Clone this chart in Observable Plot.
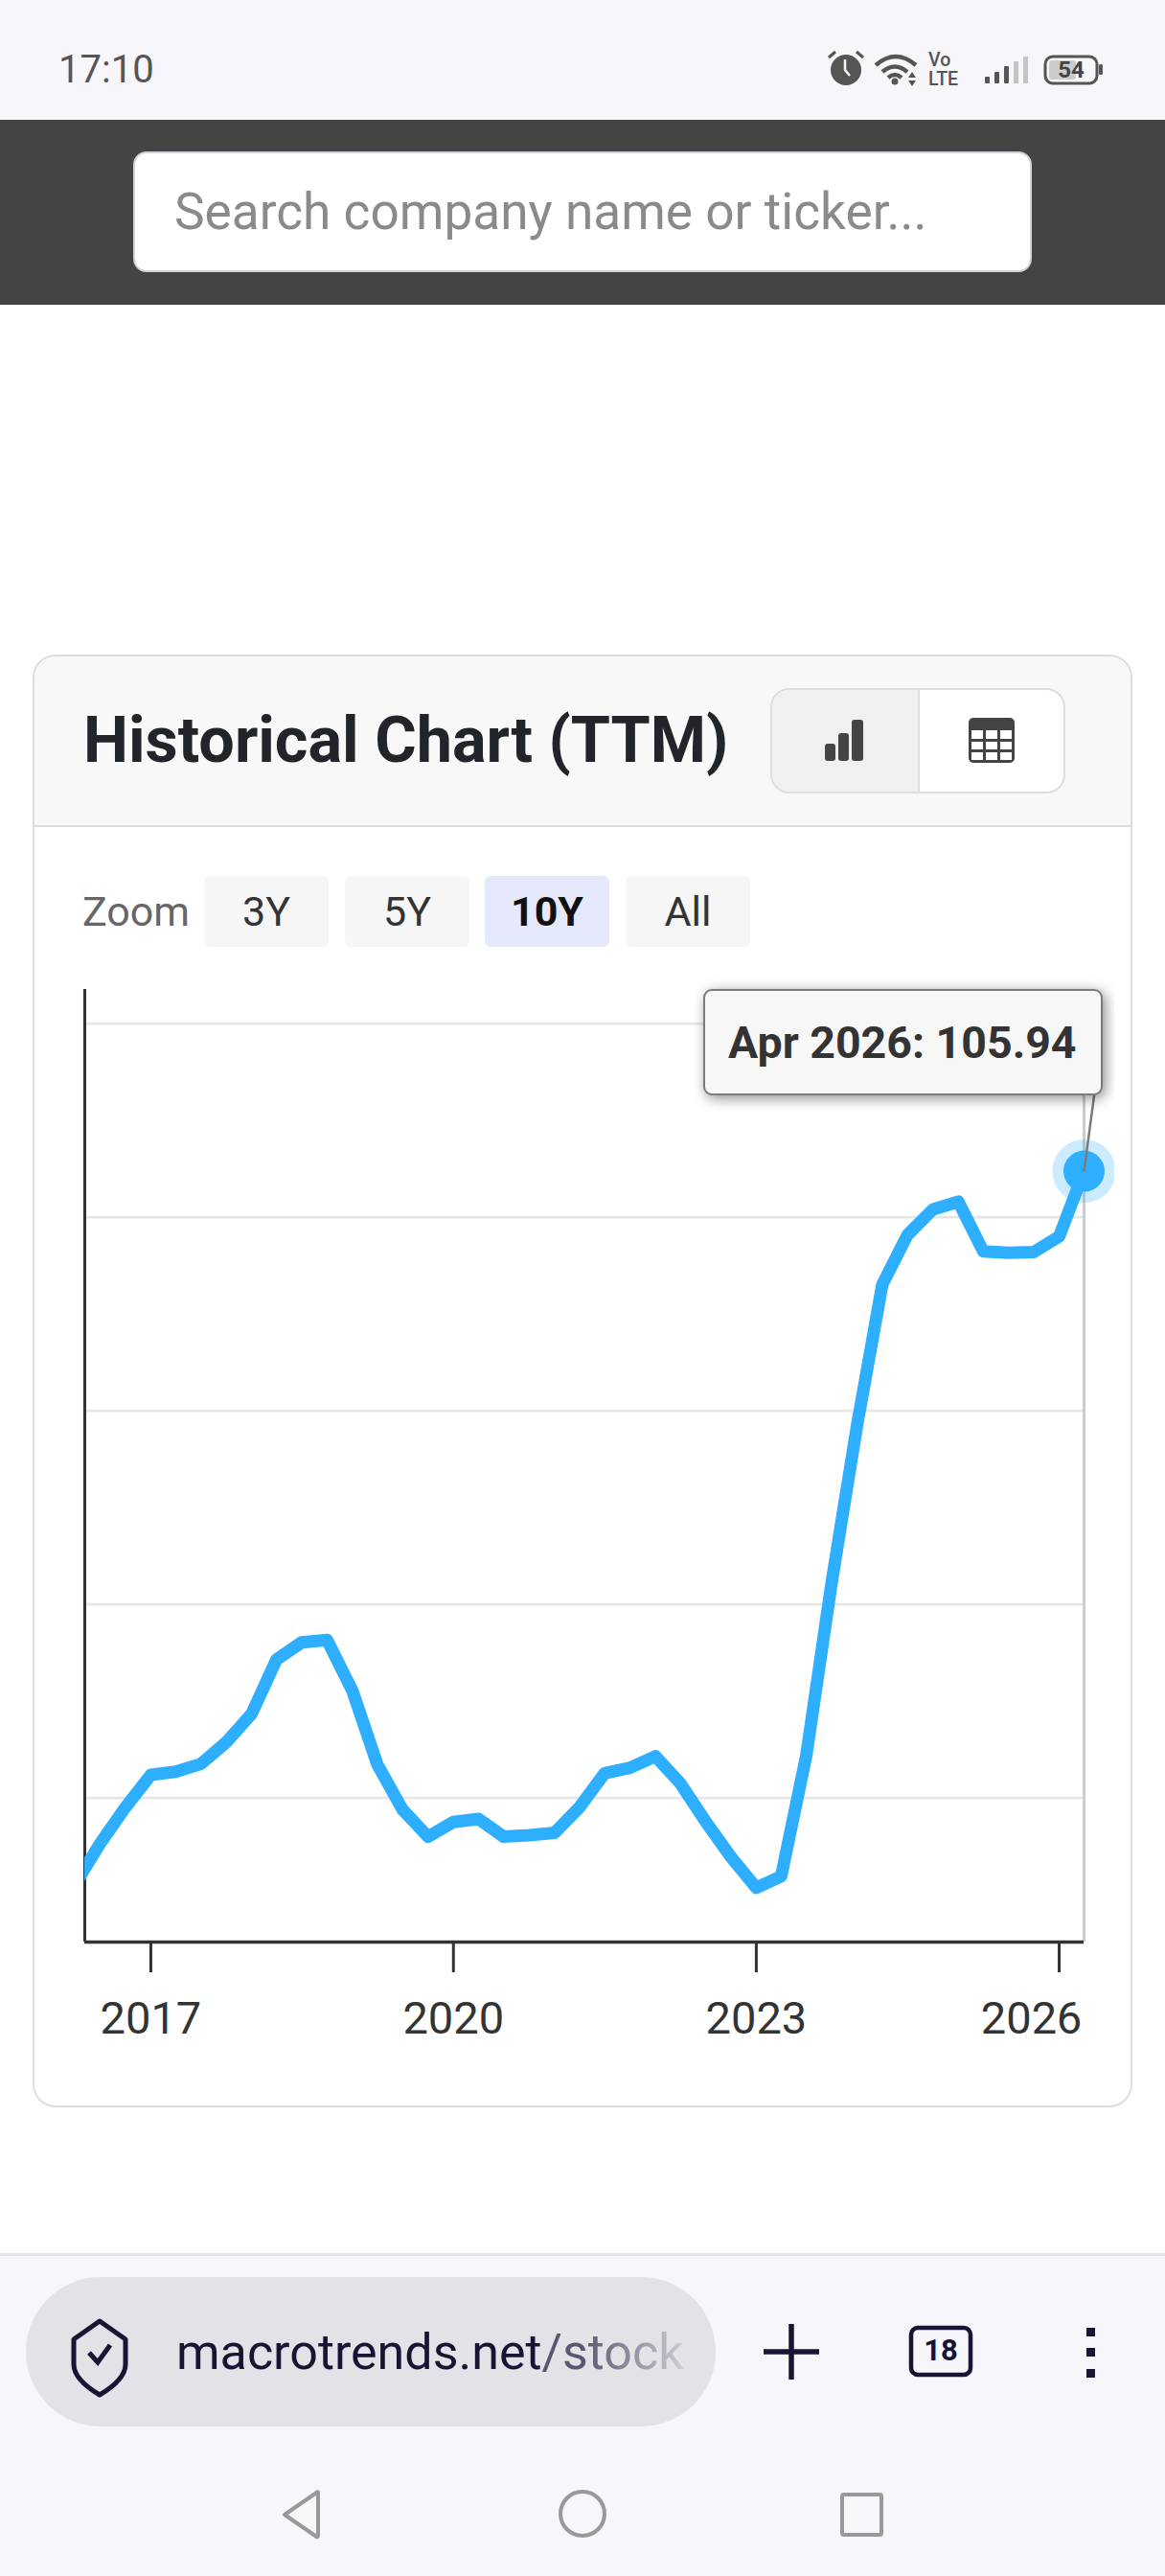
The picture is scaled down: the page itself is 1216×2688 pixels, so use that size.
<!DOCTYPE html>
<html><head><meta charset="utf-8">
<script src="https://cdn.jsdelivr.net/npm/d3@7"></script>
<script src="https://cdn.jsdelivr.net/npm/@observablehq/plot@0.6"></script>
<style>
html,body{margin:0;padding:0;background:#fff}
body{position:relative;width:1216px;height:2688px;overflow:hidden;font-family:Roboto,sans-serif}
.a{position:absolute;box-sizing:border-box}
.t{position:absolute;white-space:nowrap;line-height:1}
</style></head><body>
<div class="a" style="left:0;top:0;width:1216px;height:125px;background:#f6f6fb"></div>
<div class="t" style="left:61px;top:53px;font-size:40px;color:#555">17:10</div>
<svg class="a" style="left:860px;top:48px" width="300" height="48" viewBox="0 0 300 48">
  <circle cx="23" cy="25" r="16" fill="#555"/><path d="M22 14v11l5 6" stroke="#f6f6fb" stroke-width="2.5" fill="none"/>
  <path d="M5 12l7-6M41 12l-7-6" stroke="#555" stroke-width="3"/>
  <path d="M54 20Q75 2 96 20M61 27Q74 16 87 27M67 33Q74 27 81 33" stroke="#555" stroke-width="4.5" fill="none"/>
  <circle cx="74" cy="37" r="3.5" fill="#555"/><path d="M88 33l4-6 4 6zM88 36l4 6 4-6z" fill="#555"/>
  <text x="109" y="21" font-size="19.5" font-weight="500" fill="#555">Vo</text><text x="109" y="41" font-size="19.5" font-weight="500" fill="#555">LTE</text>
  <rect x="168" y="32" width="5" height="7" rx="1" fill="#555"/><rect x="178" y="27" width="5" height="12" rx="1" fill="#555"/><rect x="188" y="21" width="5" height="18" rx="1" fill="#555"/><rect x="198" y="16" width="5" height="23" fill="#c4c4c4"/><rect x="208" y="11" width="5" height="28" fill="#c4c4c4"/>
  <rect x="231" y="11" width="54" height="28" rx="8" fill="none" stroke="#555" stroke-width="3"/><rect x="235" y="15" width="28" height="20" rx="3" fill="#ccc"/>
  <rect x="287" y="19" width="4" height="11" rx="1.5" fill="#555"/>
  <text x="258" y="33" text-anchor="middle" font-size="24" font-weight="700" fill="#444">54</text>
</svg>
<div class="a" style="left:0;top:125px;width:1216px;height:193px;background:#444"></div>
<div class="a" style="left:139px;top:158px;width:938px;height:126px;background:#fff;border:2px solid #ced4da;border-radius:14px"></div>
<div class="t" style="left:182px;top:195px;font-size:53.2px;color:#8a8a8a">Search company name or ticker...</div>
<div class="a" style="left:34px;top:683px;width:1148px;height:1516px;background:#fff;border:2.5px solid #ddd;border-radius:24px"></div>
<div class="a" style="left:36px;top:685px;width:1144px;height:178px;background:#f8f8f8;border-bottom:2.5px solid #ddd;border-radius:22px 22px 0 0"></div>
<div class="t" style="left:87px;top:739px;font-size:66.5px;font-weight:700;color:#212529">Historical Chart (TTM)</div>
<div class="a" style="left:804px;top:718px;width:308px;height:110px;background:#fff;border:2.5px solid #ddd;border-radius:20px;overflow:hidden">
  <div class="a" style="left:0;top:0;width:154px;height:110px;background:#f0f0f0;border-right:2.5px solid #ddd"></div>
</div>
<svg class="a" style="left:855px;top:745px" width="220" height="56" viewBox="0 0 220 56">
  <rect x="6" y="31" width="11" height="18" rx="3" fill="#444"/><rect x="20" y="20" width="11" height="29" rx="3" fill="#444"/><rect x="34" y="6" width="12" height="43" rx="3" fill="#444"/>
  <rect x="156" y="4" width="48" height="47" rx="5" fill="#444"/>
  <g fill="#fff"><rect x="159" y="17" width="12" height="9"/><rect x="174" y="17" width="12" height="9"/><rect x="189" y="17" width="12" height="9"/>
  <rect x="159" y="29" width="12" height="8"/><rect x="174" y="29" width="12" height="8"/><rect x="189" y="29" width="12" height="8"/>
  <rect x="159" y="40" width="12" height="8"/><rect x="174" y="40" width="12" height="8"/><rect x="189" y="40" width="12" height="8"/></g>
</svg>
<div class="t" style="left:86px;top:930px;font-size:43px;color:#666">Zoom</div>
<div class="a" style="left:213px;top:914px;width:130px;height:74px;background:#f6f6f6;border-radius:6px"></div>
<div class="a" style="left:360px;top:914px;width:130px;height:74px;background:#f6f6f6;border-radius:6px"></div>
<div class="a" style="left:506px;top:914px;width:130px;height:74px;background:#e6e9fb;border-radius:6px"></div>
<div class="a" style="left:653px;top:914px;width:130px;height:74px;background:#f6f6f6;border-radius:6px"></div>
<div class="t" style="left:213px;width:130px;text-align:center;top:930px;font-size:43px;color:#333">3Y</div>
<div class="t" style="left:360px;width:130px;text-align:center;top:930px;font-size:43px;color:#333">5Y</div>
<div class="t" style="left:506px;width:130px;text-align:center;top:930px;font-size:43px;font-weight:700;color:#111">10Y</div>
<div class="t" style="left:653px;width:130px;text-align:center;top:930px;font-size:43px;color:#333">All</div>
<div id="chart" class="a" style="left:0;top:1000px"></div>
<div class="a" style="left:734px;top:1032px;width:417px;height:111px;background:#f7f7f7;border:2.5px solid #7b7b7b;border-radius:9px;box-shadow:3px 3px 14px rgba(0,0,0,.45);clip-path:inset(-40px -12px -40px -40px)"></div>
<div class="t" style="left:760px;top:1065px;font-size:46.5px;font-weight:700;color:#333">Apr 2026: 105.94</div>
<div class="a" style="left:0;top:2351px;width:1216px;height:337px;background:#f6f6fb;border-top:3px solid #e4e4e8"></div>
<div class="a" style="left:27px;top:2376px;width:720px;height:156px;background:#e2e2e7;border-radius:78px"></div>
<div class="t" style="left:184px;top:2429px;font-size:52px;color:#1b1333;-webkit-mask-image:linear-gradient(90deg,#000 80%,rgba(0,0,0,.15) 100%)">macrotrends.net<span style="color:#5b5670">/stock</span></div>
<svg class="a" style="left:0;top:2400px" width="1216" height="288" viewBox="0 0 1216 288">
  <path d="M104 22l27 19v26q0 16-27 32q-27-16-27-32V41z" fill="none" stroke="#1b1333" stroke-width="5" stroke-linejoin="round"/>
  <path d="M93 55l9 10 13-18" fill="none" stroke="#1b1333" stroke-width="5"/>
  <path d="M826 25v58M797 54h58" stroke="#1b1333" stroke-width="5.5"/>
  <rect x="951" y="29" width="62" height="49" rx="7" fill="none" stroke="#1b1333" stroke-width="4.5"/>
  <text x="982" y="63" text-anchor="middle" font-size="31" font-weight="700" fill="#1b1333">18</text>
  <rect x="1134" y="29" width="9" height="9" fill="#1b1333"/><rect x="1134" y="50" width="9" height="9" fill="#1b1333"/><rect x="1134" y="72" width="9" height="9" fill="#1b1333"/>
  <path d="M332 201v44q0 4-3 1l-32-22 32-22q3-3 3-1z" fill="none" stroke="#999" stroke-width="4" stroke-linejoin="round"/>
  <circle cx="608" cy="223" r="23" fill="none" stroke="#999" stroke-width="4"/>
  <rect x="879" y="203" width="41" height="42" rx="2" fill="none" stroke="#999" stroke-width="4"/>
</svg>
<script>
const quarters = ["2016-04","2016-07","2016-10","2017-01","2017-04","2017-07","2017-10","2018-01","2018-04","2018-07","2018-10","2019-01","2019-04","2019-07","2019-10","2020-01","2020-04","2020-07","2020-10","2021-01","2021-04","2021-07","2021-10","2022-01","2022-04","2022-07","2022-10","2023-01","2023-04","2023-07","2023-10","2024-01","2024-04","2024-07","2024-10","2025-01","2025-04","2025-07","2025-10","2026-01","2026-04"];
const ttm = [13.8,19.1,23.8,28.0,28.4,29.4,32.2,35.9,42.9,45.1,45.4,38.8,29.3,23.5,20.0,21.9,22.3,20.0,20.2,20.5,23.8,28.2,28.9,30.4,26.9,22.0,17.4,13.4,14.9,30.5,52.9,73.2,91.3,97.7,101,102,95.6,95.4,95.5,97.5,105.94];
const gridValues = [25,50,75,100,125];
const tickYears = ["2017","2020","2023"];
const lastTickYear = "2026";
const series = quarters.map((q,i)=>({date:new Date(q+"-01T00:00:00Z"),value:ttm[i]}));
const last = series[series.length-1];
const xStart = new Date("2016-05-07T00:00:00Z"), xEnd = last.date;
const yMin = 6.4, yMax = 129.4;
const connectorEnd = [{x1:last.date,y1:last.value,x2:new Date("2026-05-08T00:00:00Z"),y2:115.8}];
const yr = s=>new Date(s+"-01-01T00:00:00Z");
const blue = "#2eaeff";
const fmt = d=>String(d.getUTCFullYear());
const axisOpts = {anchor:"bottom",fontSize:47,label:null,stroke:"#333",strokeWidth:3,fill:"#333"};
const chart = Plot.plot({
  width:1163,height:1136,marginLeft:88,marginRight:32,marginTop:32,marginBottom:110,
  style:{overflow:"hidden",background:"transparent",fontFamily:"Roboto,sans-serif"},
  x:{type:"utc",domain:[xStart,xEnd]},
  y:{domain:[yMin,yMax],axis:null},
  marks:[
    Plot.ruleY(gridValues,{stroke:"#e6e6e6",strokeWidth:2.8}),
    Plot.ruleX([xEnd],{stroke:"#ccc",strokeWidth:3}),
    Plot.ruleX([xStart],{stroke:"#333",strokeWidth:3}),
    Plot.ruleY([yMin],{stroke:"#333",strokeWidth:3.5}),
    Plot.axisX({...axisOpts,ticks:tickYears.map(yr),tickSize:32,tickPadding:30,tickFormat:fmt}),
    Plot.axisX({...axisOpts,ticks:[yr(lastTickYear)],tickSize:32,tickFormat:()=>""}),
    Plot.axisX({...axisOpts,ticks:[yr(lastTickYear)],tickSize:0,tickPadding:62,textAnchor:"end",dx:24,tickFormat:fmt}),
    Plot.line(series,{x:"date",y:"value",stroke:blue,strokeWidth:13,strokeLinejoin:"round",clip:true}),
    Plot.dot([last],{x:"date",y:"value",r:33,fill:blue,fillOpacity:0.25}),
    Plot.dot([last],{x:"date",y:"value",r:21.5,fill:blue}),
    Plot.link(connectorEnd,{x1:"x1",y1:"y1",x2:"x2",y2:"y2",stroke:"#7b7b7b",strokeWidth:2.5})
  ]
});
document.getElementById("chart").appendChild(chart);
</script>
</body></html>
